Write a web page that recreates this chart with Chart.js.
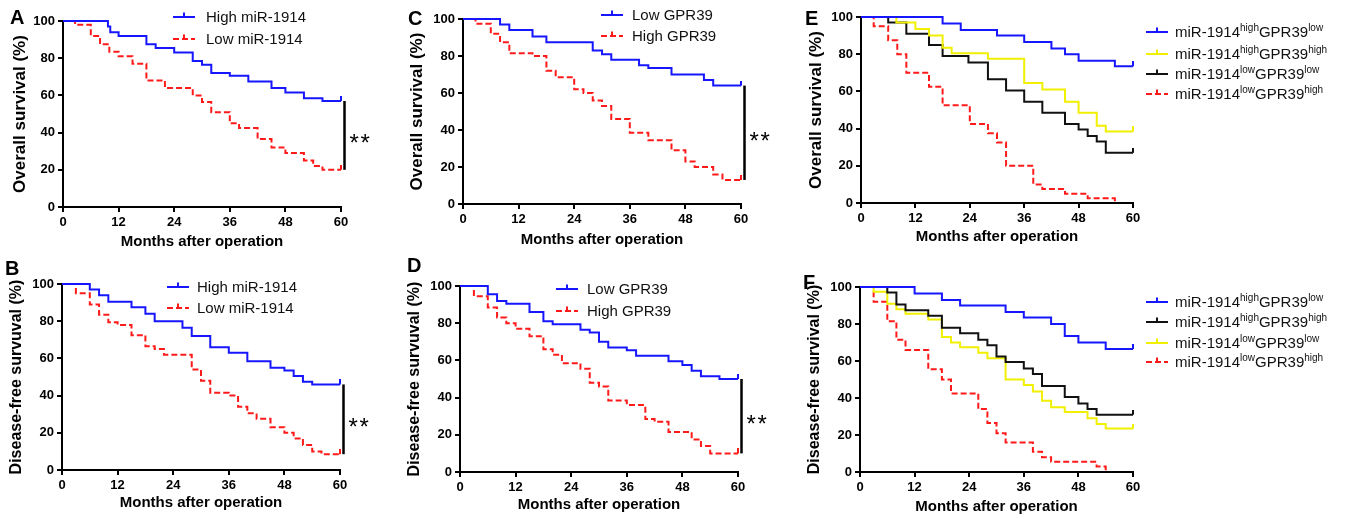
<!DOCTYPE html>
<html>
<head>
<meta charset="utf-8">
<script src="https://cdn.jsdelivr.net/npm/chart.js@4.4.1/dist/chart.umd.min.js"></script>
<style>
  body { margin: 0; background: #fff; width: 1354px; height: 519px; position: relative; overflow: hidden;
         font-family: Arial, "Liberation Sans", sans-serif; }
  canvas { position: absolute; }
  .letter { position: absolute; font-weight: bold; font-size: 20px; line-height: 20px; color: #000; }
  .leg { position: absolute; font-size: 15px; line-height: 18px; white-space: nowrap; color: #111; }
  .leg sup { font-size: 10px; vertical-align: baseline; position: relative; top: -6px; }
  svg.key { position: absolute; }
</style>
</head>
<body>
<canvas id="panelA" width="400" height="262" style="left:0;top:0"></canvas>
<canvas id="panelB" width="400" height="257" style="left:0;top:262px"></canvas>
<canvas id="panelC" width="400" height="262" style="left:400px;top:0"></canvas>
<canvas id="panelD" width="400" height="257" style="left:400px;top:262px"></canvas>
<canvas id="panelE" width="354" height="262" style="left:800px;top:0"></canvas>
<canvas id="panelF" width="354" height="257" style="left:800px;top:262px"></canvas>

<div class="letter" style="left:10px;top:7px">A</div>
<div class="letter" style="left:5px;top:258px">B</div>
<div class="letter" style="left:408px;top:8px">C</div>
<div class="letter" style="left:407px;top:255px">D</div>
<div class="letter" style="left:805px;top:8px">E</div>
<div class="letter" style="left:803px;top:272px">F</div>

<script>
// Kaplan-Meier curves: [month, survival %] at each step
const aHigh = [[0,100],[9.7,97],[10.2,94],[12,92],[18,87.5],[20,85.5],[24,83],[28,78.5],[30,76.5],[32,72],[36,70.5],[40,67.5],[45,64],[48,61.5],[52,58.5],[56,57],[60,57]];
const aLow  = [[0,100],[2.6,98],[6,92],[8,87.5],[10,83.5],[12,81],[15,77],[18,68],[22,64],[28,60],[30,56.5],[32,51],[36,45],[38,42.5],[42,36.5],[45,32],[48,29],[52,25],[54,22],[56,20],[60,20]];

const bHigh = [[0,100],[6,97],[8,94],[10,90.5],[15,87.5],[18,84],[20,80],[26,76.5],[28,72],[32,66],[36,63],[40,58.5],[45,55],[48,53.5],[50,50.5],[52,47.5],[54,46],[60,46]];
const bLow  = [[0,100],[3,95],[6,89],[8,83.5],[10,79.5],[12,78],[15,72.5],[18,66.5],[20,65],[22,62],[28,54],[30,48],[32,41.5],[36,40],[38,34],[40,30.5],[42,27.5],[45,23],[48,20],[50,17],[52,13.5],[54,10],[56,8.5],[60,8.5]];

const cLow  = [[0,100],[8,97],[10,94],[15,90.5],[18,87.5],[28,83],[30,81],[32,78],[38,75],[40,73.5],[45,70],[52,67],[54,64],[60,64]];
const cHigh = [[0,100],[2.7,97.5],[6,92],[8,87.5],[10,81.5],[15,80],[18,72],[20,68.5],[24,62],[26,60],[28,56],[30,53],[32,46],[36,38.5],[40,34.5],[45,29],[48,23],[50,20],[54,16],[56,13],[60,13]];

const dLow  = [[0,100],[6,95.5],[8,92],[10,90.5],[15,86],[18,81],[20,79.5],[26,76.5],[28,75],[30,70],[32,67],[36,65.5],[38,62.5],[45,59.5],[48,57.5],[50,54.5],[52,51.5],[56,50],[60,50]];
const dHigh = [[0,100],[3,94.5],[6,88.5],[8,83],[10,80],[12,77],[15,73],[18,66],[20,63],[22,58.5],[26,55.5],[28,48],[30,46],[32,38.5],[36,36],[40,28.5],[42,27],[45,21.5],[50,17.5],[52,14],[54,10],[60,10]];

const eHighLow  = [[0,100],[18,96.5],[22,93],[30,90],[36,86.5],[42,83],[45,80],[48,76.5],[56,73.5],[60,73.5]];
const eHighHigh = [[0,100],[7.8,97],[12,93.5],[15,90],[18,83.5],[20,80.5],[28,77.5],[36,64.5],[40,61],[45,54.5],[48,48.5],[52,41.5],[54,38.5],[60,38.5]];
const eLowLow   = [[0,100],[6,97],[10,91],[15,85],[18,79],[23.7,75.5],[28,66.5],[32,60.5],[36,54.5],[40,48.5],[45,42.5],[48,39.5],[50,36],[52,33],[54,27],[60,27]];
const eLowHigh  = [[0,100],[2.8,95],[6,87.5],[8,80],[10,70],[15,62.5],[18,52.5],[24,42.5],[28,37.5],[30,32.5],[32,20],[38,10],[40,7.5],[45,5],[50,2.5],[56,0]];

const fHighLow  = [[0,100],[12,96.5],[18,93],[22,90],[32,86.5],[36,83.5],[42,80],[45,73.5],[48,70],[54,66.5],[60,66.5]];
const fHighHigh = [[0,100],[6,97],[8,90.5],[10,87.5],[15,84.5],[18,78],[22,75],[26,71.5],[28,68.5],[30,62.5],[32,59.5],[36,56],[38,53],[40,46.5],[45,40.5],[48,37],[50,34],[52,31],[60,31]];
const fLowLow   = [[0,100],[3,97.5],[6,91],[8,88],[10,85.5],[15,82.5],[18,73],[20,70],[22,67.5],[26,64.5],[28,61.5],[32,50],[36,47],[38,43.5],[40,38.5],[42,35],[45,32.5],[50,29],[52,26],[54,23.5],[60,23.5]];
const fLowHigh  = [[0,100],[3,92],[6,81.5],[8,71.5],[10,66],[15,55.5],[18,50],[20,42.5],[26,34],[28,26.5],[30,21],[32,16],[38,11],[40,8],[42,5.5],[52,3],[54,0]];

const BLUE = '#1616ff', RED = '#ff1a1a', YEL = '#f0f000', BLK = '#111111';
const FONT = 'Arial, "Liberation Sans", sans-serif';

// little upward tick for the censored end of a curve
function censorMark(color) {
  const c = document.createElement('canvas');
  c.width = 2; c.height = 10;
  const g = c.getContext('2d');
  g.fillStyle = color;
  g.fillRect(0, 0, 2, 5);
  return c;
}

function curve(pairs, color, dashed) {
  const last = pairs.length - 1;
  return {
    data: pairs.map(p => ({ x: p[0], y: p[1] })),
    borderColor: color,
    borderWidth: 2,
    borderDash: dashed ? [6, 3] : [],
    stepped: 'before',
    fill: false,
    clip: false,
    pointStyle: censorMark(color),
    pointRadius: ctx => (ctx.dataIndex === last && pairs[last][1] > 0) ? 5 : 0,
    pointHoverRadius: 0
  };
}

// vertical bar + ** between the two curve ends
const sigBar = {
  id: 'sigBar',
  afterDatasetsDraw(chart, args, opts) {
    if (!opts.show) return;
    const { ctx, scales: { x, y } } = chart;
    const px = x.getPixelForValue(60) + 3.5;
    const y1 = y.getPixelForValue(opts.top), y2 = y.getPixelForValue(opts.bottom);
    ctx.save();
    ctx.strokeStyle = '#000';
    ctx.lineWidth = 2.5;
    ctx.beginPath();
    ctx.moveTo(px, y1);
    ctx.lineTo(px, y2);
    ctx.stroke();
    ctx.fillStyle = '#000';
    ctx.font = '24px ' + FONT;
    ctx.textBaseline = 'alphabetic';
    const ty = (y1 + y2) / 2 + 16;
    ctx.fillText('*', px + 5, ty);
    ctx.fillText('*', px + 16, ty);
    ctx.restore();
  }
};

function panel(id, box, plot, yTitle, yTitleSize, yTitleX, xTitleY, datasets, sig) {
  const yW = plot.l - box.l;
  const xH = box.t + box.h - plot.b;
  const yPad = yTitleX - box.l - yTitleSize * 0.6;
  const xPad = box.t + box.h - xTitleY - 9;
  const tickFont = { family: FONT, size: 13, weight: 'bold' };
  new Chart(document.getElementById(id), {
    type: 'line',
    data: { datasets },
    plugins: [sigBar],
    options: {
      responsive: false,
      animation: false,
      devicePixelRatio: 1,
      layout: { padding: { left: 0, top: plot.t - box.t, right: box.l + box.w - plot.r, bottom: 0 } },
      plugins: {
        legend: { display: false },
        tooltip: { enabled: false },
        sigBar: sig || { show: false }
      },
      scales: {
        x: {
          type: 'linear', min: 0, max: 60,
          ticks: { stepSize: 12, autoSkip: false, maxRotation: 0, color: '#000', font: tickFont, padding: 3 },
          grid: { drawOnChartArea: false, drawTicks: true, tickLength: 5, color: '#000', lineWidth: 2 },
          border: { display: true, color: '#000', width: 2 },
          title: { display: true, text: 'Months after operation', color: '#000',
                   font: { family: FONT, size: 15, weight: 'bold' }, padding: { top: 0, bottom: xPad } },
          afterFit: s => { s.height = xH; }
        },
        y: {
          min: 0, max: 100,
          ticks: { stepSize: 20, autoSkip: false, color: '#000', font: tickFont, padding: 3 },
          grid: { drawOnChartArea: false, drawTicks: true, tickLength: 5, color: '#000', lineWidth: 2 },
          border: { display: true, color: '#000', width: 2 },
          title: { display: true, text: yTitle, color: '#000',
                   font: { family: FONT, size: yTitleSize, weight: 'bold' }, padding: { top: yPad, bottom: 0 } },
          afterFit: s => { s.width = yW; }
        }
      }
    }
  });
}

function legend(items, lineLeft, textLeft, ys) {
  items.forEach((it, i) => {
    const y = ys[i];
    const svg = document.createElementNS('http://www.w3.org/2000/svg', 'svg');
    svg.setAttribute('class', 'key');
    svg.setAttribute('width', '24');
    svg.setAttribute('height', '12');
    svg.style.left = lineLeft + 'px';
    svg.style.top = (y - 8) + 'px';
    svg.innerHTML =
      '<line x1="0" y1="8" x2="22" y2="8" stroke="' + it.color + '" stroke-width="2"' +
      (it.dashed ? ' stroke-dasharray="6 3"' : '') + '/>' +
      '<line x1="11" y1="3.5" x2="11" y2="8" stroke="' + it.color + '" stroke-width="2"/>';
    document.body.appendChild(svg);
    const d = document.createElement('div');
    d.className = 'leg';
    d.style.left = textLeft + 'px';
    d.style.top = (y - 9) + 'px';
    d.innerHTML = it.label;
    document.body.appendChild(d);
  });
}

panel('panelA', { l: 0, t: 0, w: 400, h: 262 }, { l: 63, t: 21, r: 341, b: 207 },
  'Overall survival (%)', 17, 20, 242,
  [curve(aHigh, BLUE, false), curve(aLow, RED, true)],
  { show: true, top: aHigh[aHigh.length - 1][1], bottom: aLow[aLow.length - 1][1] });

panel('panelB', { l: 0, t: 262, w: 400, h: 257 }, { l: 62, t: 284, r: 340, b: 470 },
  'Disease-free survuval (%)', 16, 17, 503,
  [curve(bHigh, BLUE, false), curve(bLow, RED, true)],
  { show: true, top: bHigh[bHigh.length - 1][1], bottom: bLow[bLow.length - 1][1] });

panel('panelC', { l: 400, t: 0, w: 400, h: 262 }, { l: 463, t: 19, r: 741, b: 204 },
  'Overall survival (%)', 17, 417, 240,
  [curve(cLow, BLUE, false), curve(cHigh, RED, true)],
  { show: true, top: cLow[cLow.length - 1][1], bottom: cHigh[cHigh.length - 1][1] });

panel('panelD', { l: 400, t: 262, w: 400, h: 257 }, { l: 460, t: 286, r: 738, b: 472 },
  'Disease-free survuval (%)', 16, 415, 505,
  [curve(dLow, BLUE, false), curve(dHigh, RED, true)],
  { show: true, top: dLow[dLow.length - 1][1], bottom: dHigh[dHigh.length - 1][1] });

panel('panelE', { l: 800, t: 0, w: 354, h: 262 }, { l: 861, t: 17, r: 1133, b: 203 },
  'Overall survival (%)', 17, 816, 237,
  [curve(eHighLow, BLUE, false), curve(eHighHigh, YEL, false), curve(eLowLow, BLK, false), curve(eLowHigh, RED, true)]);

panel('panelF', { l: 800, t: 262, w: 354, h: 257 }, { l: 860, t: 287, r: 1133, b: 472 },
  'Disease-free survival (%)', 16, 815, 507,
  [curve(fHighLow, BLUE, false), curve(fHighHigh, BLK, false), curve(fLowLow, YEL, false), curve(fLowHigh, RED, true)]);

legend([{ label: 'High miR-1914', color: BLUE }, { label: 'Low miR-1914', color: RED, dashed: true }], 173, 206, [17, 39]);
legend([{ label: 'High miR-1914', color: BLUE }, { label: 'Low miR-1914', color: RED, dashed: true }], 167, 197, [287, 308]);
legend([{ label: 'Low GPR39', color: BLUE }, { label: 'High GPR39', color: RED, dashed: true }], 601, 632, [15, 36]);
legend([{ label: 'Low GPR39', color: BLUE }, { label: 'High GPR39', color: RED, dashed: true }], 556, 587, [289, 311]);
legend([
  { label: 'miR-1914<sup>high</sup>GPR39<sup>low</sup>', color: BLUE },
  { label: 'miR-1914<sup>high</sup>GPR39<sup>high</sup>', color: YEL },
  { label: 'miR-1914<sup>low</sup>GPR39<sup>low</sup>', color: BLK },
  { label: 'miR-1914<sup>low</sup>GPR39<sup>high</sup>', color: RED, dashed: true }
], 1146, 1175, [32, 54, 74, 94]);
legend([
  { label: 'miR-1914<sup>high</sup>GPR39<sup>low</sup>', color: BLUE },
  { label: 'miR-1914<sup>high</sup>GPR39<sup>high</sup>', color: BLK },
  { label: 'miR-1914<sup>low</sup>GPR39<sup>low</sup>', color: YEL },
  { label: 'miR-1914<sup>low</sup>GPR39<sup>high</sup>', color: RED, dashed: true }
], 1146, 1175, [302, 322, 343, 362]);
</script>
</body>
</html>
